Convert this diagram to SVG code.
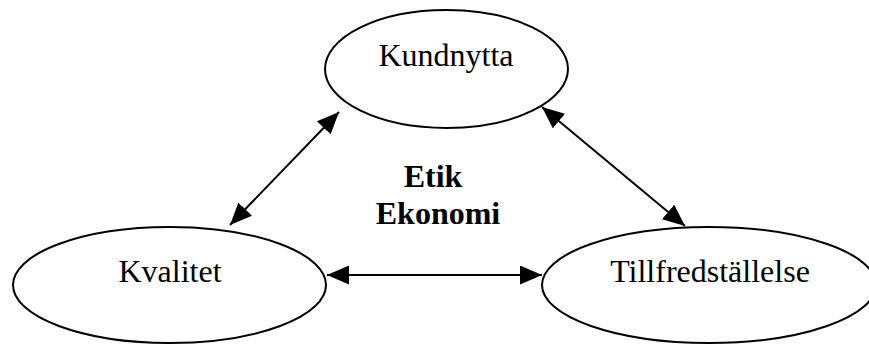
<svg xmlns="http://www.w3.org/2000/svg" width="869" height="345" viewBox="0 0 869 345">
<style>
.node ellipse{fill:#fff;stroke:#000;stroke-width:2}
.lbl{font-family:"Liberation Serif","Times New Roman",serif;font-size:32px;fill:#000;text-anchor:middle}
.bold{font-weight:bold}
.conn line{stroke:#000;stroke-width:2;marker-start:url(#ah);marker-end:url(#ah)}
</style>
<defs>
<marker id="ah" viewBox="0 0 22 19" refX="22" refY="9.5" markerWidth="22" markerHeight="19" markerUnits="userSpaceOnUse" orient="auto-start-reverse">
<path d="M0,0 L22,9.5 L0,19 z" fill="#000"/>
</marker>
</defs>
<rect width="869" height="345" fill="#fff"/>
<g id="kundnytta" class="node">
<ellipse cx="446.5" cy="69" rx="121.5" ry="59"/>
<text class="lbl" x="446" y="66">Kundnytta</text>
</g>
<g id="kvalitet" class="node">
<ellipse cx="169.5" cy="285" rx="156.5" ry="58"/>
<text class="lbl" x="170" y="282">Kvalitet</text>
</g>
<g id="tillfredstallelse" class="node">
<ellipse cx="709" cy="285" rx="167" ry="58"/>
<text class="lbl" x="710" y="282">Tillfredställelse</text>
</g>
<g id="center">
<text class="lbl bold" x="433" y="187">Etik</text>
<text class="lbl bold" x="438" y="224">Ekonomi</text>
</g>
<g id="connectors" class="conn">
<line x1="339" y1="112" x2="230" y2="225"/>
<line x1="542" y1="107" x2="685" y2="226"/>
<line x1="327" y1="275" x2="542" y2="275"/>
</g>
</svg>
